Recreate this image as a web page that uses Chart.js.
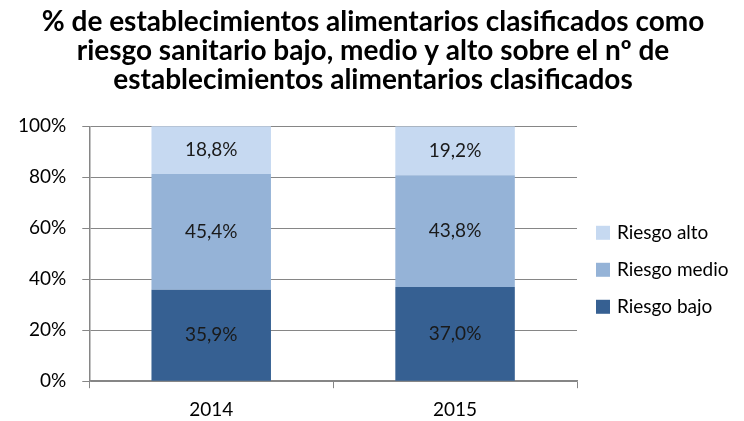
<!DOCTYPE html>
<html>
<head>
<meta charset="utf-8">
<script src="https://cdn.jsdelivr.net/npm/chart.js@4"></script>
<style>
  html, body { margin: 0; padding: 0; background: #fff; }
  #wrap { width: 744px; height: 421px; }
</style>
</head>
<body>
<div id="wrap"><canvas id="riesgoChart" width="744" height="421"></canvas></div>
<script>
// datos del gráfico
const years = ['2014', '2015'];
const riesgoBajo = [35.9, 37.0];
const riesgoMedio = [45.4, 43.8];
const riesgoAlto = [18.8, 19.2];
const yTicks = [0, 20, 40, 60, 80, 100];

const axisGrey = '#868686';
const fontFam = 'Lato, "Open Sans", sans-serif';

// etiquetas de porcentaje dentro de cada segmento
const barLabels = {
    id: 'barLabels',
    afterDatasetsDraw(chart) {
        const ctx = chart.ctx;
        ctx.save();
        ctx.font = '19px ' + fontFam;
        ctx.fillStyle = '#1a1a1a';
        ctx.textAlign = 'center';
        ctx.textBaseline = 'middle';
        chart.data.datasets.forEach((ds, i) => {
            chart.getDatasetMeta(i).data.forEach((bar, j) => {
                const mid = (bar.y + bar.base) / 2;
                ctx.fillText(ds.data[j].toFixed(1).replace('.', ',') + '%', bar.x, mid);
            });
        });
        ctx.restore();
    }
};

// leyenda a la derecha, en orden inverso (alto, medio, bajo)
const sideLegend = {
    id: 'sideLegend',
    afterDraw(chart) {
        const ctx = chart.ctx;
        const area = chart.chartArea;
        const items = chart.data.datasets.slice().reverse();
        const step = 37;
        const midY = (area.top + area.bottom) / 2 + 16;
        const x = area.right + 19;
        ctx.save();
        ctx.font = '19px ' + fontFam;
        ctx.textBaseline = 'middle';
        items.forEach((ds, i) => {
            const y = midY + (i - 1) * step;
            ctx.fillStyle = ds.backgroundColor;
            ctx.fillRect(x, y - 7, 14, 14);
            ctx.fillStyle = '#000';
            ctx.fillText(ds.label, x + 21, y);
        });
        ctx.restore();
    }
};

const ctx = document.getElementById('riesgoChart').getContext('2d');
new Chart(ctx, {
    type: 'bar',
    data: {
        labels: years,
        datasets: [
            { label: 'Riesgo bajo', data: riesgoBajo, backgroundColor: '#366092' },
            { label: 'Riesgo medio', data: riesgoMedio, backgroundColor: '#95B3D7' },
            { label: 'Riesgo alto', data: riesgoAlto, backgroundColor: '#C6D9F1' }
        ]
    },
    options: {
        responsive: false,
        animation: false,
        layout: { padding: { left: 2, right: 0, top: 2, bottom: -10 } },
        datasets: { bar: { barPercentage: 0.49, categoryPercentage: 1 } },
        plugins: {
            title: {
                display: true,
                text: [
                    '% de establecimientos alimentarios clasificados como',
                    'riesgo sanitario bajo, medio y alto sobre el nº de',
                    'establecimientos alimentarios clasificados'
                ],
                color: '#000',
                font: { family: fontFam, size: 28, weight: 'bold', lineHeight: 1.04 },
                padding: { top: 5, bottom: 32 }
            },
            legend: { display: false },
            tooltip: { enabled: false }
        },
        scales: {
            x: {
                stacked: true,
                grid: { display: true, drawOnChartArea: false, offset: true, color: axisGrey, tickLength: 7 },
                border: { color: axisGrey, width: 1.5 },
                ticks: { color: '#000', font: { family: fontFam, size: 19 }, padding: 10 }
            },
            y: {
                stacked: true,
                min: 0,
                max: 100,
                afterBuildTicks: axis => { axis.ticks = yTicks.map(v => ({ value: v })); },
                grid: { color: axisGrey, tickLength: 7 },
                border: { color: axisGrey, width: 1.5 },
                ticks: {
                    color: '#000',
                    font: { family: fontFam, size: 19 },
                    padding: 16,
                    callback: v => v + '%'
                }
            },
            // eje vacío que reserva el hueco de la leyenda
            legendSpace: {
                type: 'linear',
                position: 'right',
                grid: { display: false },
                border: { display: false },
                ticks: { display: false },
                afterFit: s => { s.width = 167; }
            }
        }
    },
    plugins: [barLabels, sideLegend]
});
</script>
</body>
</html>
